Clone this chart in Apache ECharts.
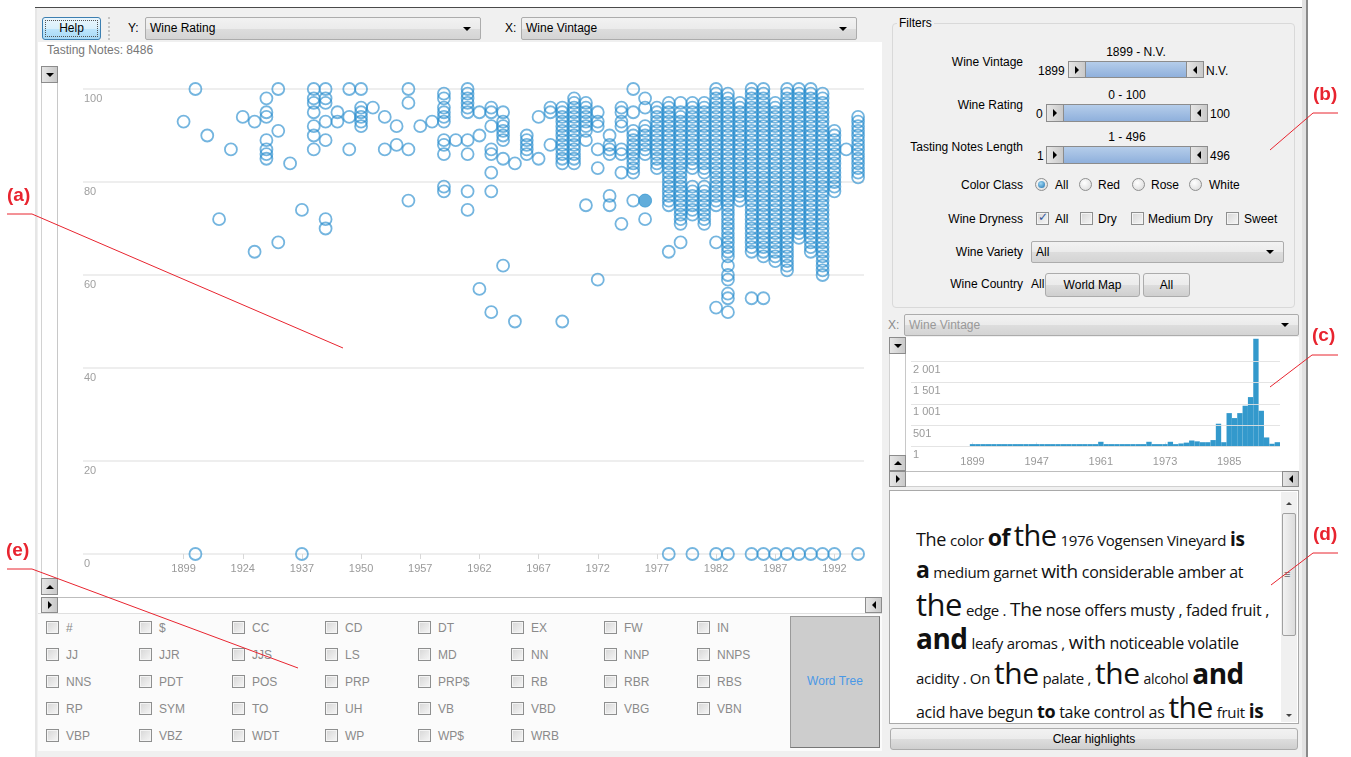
<!DOCTYPE html>
<html><head><meta charset="utf-8">
<script src="https://cdn.jsdelivr.net/npm/echarts@6/dist/echarts.min.js"></script>
<style>
html,body{margin:0;padding:0;width:1351px;height:757px;overflow:hidden;background:#fff;font-family:"Liberation Sans",Arial,sans-serif;font-size:12px;color:#000}
.a{position:absolute;box-sizing:border-box}
.t{line-height:14px;white-space:nowrap}
.btn{border:1px solid #acacac;border-radius:3px;background:linear-gradient(#f2f2f2,#ebebeb 50%,#dddddd 51%,#cfcfcf);text-align:center;white-space:nowrap}
.sel{border:1px solid #acacac;border-radius:2px;background:linear-gradient(#f2f2f2,#ebebeb 50%,#dddddd 51%,#d4d4d4);white-space:nowrap;padding-left:4px}
.sb{border:1px solid #8c8c8c;background:linear-gradient(90deg,#e6e6e6,#c9c9c9)}
.tri{position:absolute;width:0;height:0}
.cb{border:1px solid #8e8f8f;background:linear-gradient(135deg,#d6d6d6,#f6f6f6);box-shadow:inset 0 0 0 1px #f4f4f4}
.rb{border:1px solid #8e8f8f;border-radius:50%;background:radial-gradient(circle at 40% 35%,#ffffff,#d6d6d6)}
#cloud span{white-space:nowrap}
</style></head><body>
<div id="ui"></div>
<div id="chart" class="a" style="left:0;top:0;width:1351px;height:757px;z-index:10"></div>
<script>
// ---------------- DATA ----------------
const vintages = ['1899','1900','1904','1912','1921','1924','1926','1928','1929','1934',
  '1937','1943','1947','1948','1949','1950','1952','1953','1954','1955',
  '1957','1958','1959','1960','1961','1962','1963','1964','1965','1966',
  '1967','1968','1969','1970','1971','1972','1973','1974','1975','1976',
  '1977','1978','1979','1980','1981','1982','1983','1984','1985','1986',
  '1987','1988','1989','1990','1991','1992','1993','N.V.'];

// wine ratings read per vintage (same order as vintages)
const ratings = [
  [93],
  [100,0],
  [90],
  [72],
  [87],
  [94],
  [93,65],
  [98,95,94,89,87,86,85],
  [100,91,67],
  [84],
  [74,0],
  [100,98,97,95,92,90,87],
  [100,98,97,93,89,72,70],
  [95,93],
  [100,94,87],
  [100,96,95,94,93,92],
  [96],
  [94,87],
  [92,88],
  [100,97,87,76],
  [92],
  [93],
  [99,98,96,95,94,93,89,88,86,79,78],
  [89],
  [100,99,98,97,96,95,89,86,78,74],
  [95,90,57],
  [96,95,92,87,86,82,78,52],
  [95,93,92,91,90,89,85,62],
  [84,50],
  [90,89,88,87,86],
  [94,85],
  [96,95,88],
  [96,95,94,93,92,91,90,89,88,87,86,85,84,50],
  [98,97,96,95,94,93,92,91,90,89,88,87,86,85,84],
  [97,96,95,94,93,92,91,89,75],
  [95,93,92,87,83,59],
  [90,88,87,86,77,75],
  [96,95,93,92,87,86,82,71],
  [100,95,91,90,89,88,87,86,85,84,83,82,76],
  [98,96,92,91,90,89,88,87,86,76,72],
  [96,95,94,93,92,91,90,89,88,87,86,85,84,83],
  [97,96,95,94,93,92,91,90,89,88,87,86,85,84,83,82,81,80,79,78,77,76,75,65,0],
  [97,95,94,93,92,91,90,89,88,87,86,85,84,83,82,81,80,79,78,77,76,75,74,73,72,71,67],
  [97,96,95,94,93,92,91,90,89,88,87,86,85,84,83,79,78,77,76,75,74,73,0],
  [97,96,95,94,93,92,91,90,89,88,87,86,85,84,83,82,79,78,77,76,75,74,73,72,71],
  [100,99,98,97,96,95,94,93,92,91,90,89,88,87,86,85,84,83,82,81,80,79,78,77,76,75,67,53,0],
  [99,98,97,96,95,94,93,92,91,90,89,88,87,86,85,84,83,82,81,80,79,78,77,76,75,74,73,72,71,70,69,68,67,66,65,64,62,60,59,56,55,52,0],
  [97,96,95,94,93,92,91,90,89,88,87,86,85,84,83,82,81,80,79,78,77,76],
  [100,99,98,97,96,95,94,93,92,91,90,89,88,87,86,85,84,83,82,81,80,79,78,77,76,75,74,73,72,71,70,69,68,67,66,65,55,0],
  [100,99,98,97,96,95,94,93,92,91,90,89,88,87,86,85,84,83,82,81,80,79,78,77,76,75,74,73,72,71,70,69,68,67,66,65,64,55,0],
  [97,96,95,94,93,92,91,90,89,88,87,86,85,84,83,82,81,80,79,78,77,76,75,74,73,72,71,70,69,68,67,66,65,64,63,0],
  [100,99,98,97,96,95,94,93,92,91,90,89,88,87,86,85,84,83,82,81,80,79,78,77,76,75,74,73,72,71,70,69,68,67,66,65,64,63,62,61,0],
  [100,99,98,97,96,95,94,93,92,91,90,89,88,87,86,85,84,83,82,81,80,79,78,77,76,75,74,73,72,71,70,69,68,0],
  [100,99,98,97,96,95,94,93,92,91,90,89,88,87,86,85,84,83,82,81,80,79,78,77,76,75,74,73,72,71,70,69,68,67,66,65,0],
  [99,98,97,96,95,94,93,92,91,90,89,88,87,86,85,84,83,82,81,80,79,78,77,76,75,74,73,72,71,70,69,68,67,66,65,64,63,62,61,60,0],
  [91,90,89,88,87,86,85,84,83,82,81,80,79,78,0],
  [87],
  [94,93,92,91,90,89,88,87,86,85,84,83,82,81,0]
];
const highlightVintage = '1976';
const highlightRating = 76;

// number of tasting notes per vintage (histogram)
const histCounts = [55,55,55,55,55,55,55,55,55,55,
  55,55,55,55,55,55,55,55,55,55,
  55,55,55,55,110,55,55,55,55,55,
  55,55,55,110,55,55,55,110,55,70,
  90,140,120,100,100,150,535,100,785,668,
  785,958,1162,2535,840,212,63,100];

const scatterXLabels = ['1899','1924','1937','1950','1957','1962','1967','1972','1977','1982','1987','1992'];
const histXLabels = ['1899','1947','1961','1973','1985'];
const histYTicks = [1,501,1001,1501,2001];
const ratingTicks = [0,20,40,60,80,100];

const posTags = [
  ['#','$','CC','CD','DT','EX','FW','IN'],
  ['JJ','JJR','JJS','LS','MD','NN','NNP','NNPS'],
  ['NNS','PDT','POS','PRP','PRP$','RB','RBR','RBS'],
  ['RP','SYM','TO','UH','VB','VBD','VBG','VBN'],
  ['VBP','VBZ','WDT','WP','WP$','WRB']
];

// ---------------- UI (HTML) ----------------
const ui = document.getElementById('ui');
function box(x,y,w,h,cls,style,html){const d=document.createElement('div');d.className='a '+(cls||'');d.style.cssText=`left:${x}px;top:${y}px;width:${w}px;height:${h}px;`+(style||'');if(html!=null)d.innerHTML=html;ui.appendChild(d);return d;}
function txt(x,yc,s,style){const d=document.createElement('div');d.className='a t';d.style.cssText=`left:${x}px;top:${yc-7}px;`+(style||'');d.textContent=s;ui.appendChild(d);return d;}
function txtR(xr,yc,s,style){const d=document.createElement('div');d.className='a t';d.style.cssText=`left:${xr-300}px;width:300px;text-align:right;top:${yc-7}px;`+(style||'');d.textContent=s;ui.appendChild(d);return d;}
function txtC(xc,yc,s,style){const d=document.createElement('div');d.className='a t';d.style.cssText=`left:${xc-150}px;width:300px;text-align:center;top:${yc-7}px;`+(style||'');d.textContent=s;ui.appendChild(d);return d;}
function tri(parent,dir,cx,cy,s,color){const t=document.createElement('div');t.className='tri';s=s||4;color=color||'#000';
  let css='';
  if(dir==='down')css=`border-left:${s}px solid transparent;border-right:${s}px solid transparent;border-top:${s}px solid ${color};left:${cx-s}px;top:${cy-s/2}px;`;
  if(dir==='up')css=`border-left:${s}px solid transparent;border-right:${s}px solid transparent;border-bottom:${s}px solid ${color};left:${cx-s}px;top:${cy-s/2}px;`;
  if(dir==='right')css=`border-top:${s}px solid transparent;border-bottom:${s}px solid transparent;border-left:${s}px solid ${color};left:${cx-s/2}px;top:${cy-s}px;`;
  if(dir==='left')css=`border-top:${s}px solid transparent;border-bottom:${s}px solid transparent;border-right:${s}px solid ${color};left:${cx-s/2}px;top:${cy-s}px;`;
  t.style.cssText=css;parent.appendChild(t);}
function sbtn(x,y,dir,w,h){w=w||17;h=h||17;const b=box(x,y,w,h,'sb');tri(b,dir,(w-2)/2,(h-2)/2,4);return b;}
function sel(x,y,w,h,s,color){const b=box(x,y,w,h,'sel',`line-height:${h-2}px;color:${color||'#000'}`,'');b.textContent=s;tri(b,'down',w-15,(h-2)/2,4);return b;}
function cb(x,yc,checked){const b=box(x,yc-7,13,13,'cb','');if(checked){b.innerHTML='<div class="a" style="left:1px;top:-3px;font:bold 12px \'DejaVu Sans\';color:#31569b">&#10003;</div>';}return b;}
function rb(xc,yc,on){const b=box(xc-7,yc-7,13,13,'rb','');if(on){b.innerHTML='<div class="a" style="left:2px;top:2px;width:7px;height:7px;border-radius:50%;background:radial-gradient(circle at 40% 35%,#9fd8f4,#1a6fae);"></div>';}return b;}

// app frame
box(35,7,1273,750,'','background:#f0f0f0;border-top:1px solid #4a4a4a;');
box(1302,0,4,757,'','background:#e2e2e2;');
box(1306,0,2,757,'','background:#8a8a8a;');
box(35,8,2,749,'','background:#e6e6e6;');

// main top bar
box(42,17,59,23,'','border:1px solid #3c7fb1;border-radius:3px;background:linear-gradient(#eaf6fd,#d9f0fc 50%,#bee6fd 51%,#a7d9f5);');
box(45,20,53,17,'','border:1px dotted #555;text-align:center;line-height:15px;','Help');
box(108,17,2,23,'','border-left:2px dotted #c4c4c4;');
txt(128,28,'Y:');
sel(145,17,336,23,'Wine Rating');
txt(505,28,'X:');
sel(521,17,336,23,'Wine Vintage');

// main plot panel
box(38,42,844,571,'','background:#fff;');
txt(47,50,'Tasting Notes: 8486','color:#777;');
box(41,66,17,529,'','background:#fff;border-left:1px solid #d2d2d2;border-right:1px solid #c8c8c8;');
sbtn(41,66,'down');
sbtn(41,578,'up');
box(41,597,841,16,'','background:#fff;border-top:1px solid #bdbdbd;');
sbtn(41,597,'right',17,16);
sbtn(865,597,'left',17,16);

// part-of-speech checkboxes
box(38,613,844,138,'','background:#fbfbfb;border-top:1px solid #e0e0e0;');
const colX=[46,139,232,325,418,511,604,697];
const rowY=[628,655,682,709,736];
posTags.forEach((row,ri)=>row.forEach((tag,ci)=>{cb(colX[ci],rowY[ri],false);txt(colX[ci]+20,rowY[ri],tag,'color:#8a8a8a;');}));
box(790,616,90,132,'','background:#cdcdcd;border:1px solid #9a9a9a;border-right-color:#777;border-bottom-color:#777;');
txtC(835,681,'Word Tree','color:#4a98e6;');

// Filters group
box(892,23,403,285,'','border:1px solid #d9d9d9;border-radius:4px;');
txt(897,23,'Filters','background:#f0f0f0;padding:0 2px;');
const filterLabels=[['Wine Vintage',62],['Wine Rating',105],['Tasting Notes Length',147],['Color Class',185],['Wine Dryness',219],['Wine Variety',252],['Wine Country',284]];
filterLabels.forEach(([s,y])=>txtR(1023,y,s));
function slider(x1,x2,y1,h,topTxt,lo,loX,hi){
  box(x1,y1,x2-x1,h,'','border:1px solid #8c8c8c;background:linear-gradient(#b5cdea,#8fb0dc);');
  sbtn(x1,y1,'right',18,h);sbtn(x2-18,y1,'left',18,h);
  txtC((x1+x2)/2,y1-9,topTxt);
  txt(loX,y1+h/2+1,lo);txt(x2+2,y1+h/2+1,hi);
}
slider(1068,1204,61,17,'1899 - N.V.','1899',1038,'N.V.');
slider(1046,1208,104,18,'0 - 100','0',1036,'100');
slider(1046,1208,146,18,'1 - 496','1',1037,'496');
rb(1042,185,true);txt(1055,185,'All');
rb(1086,185,false);txt(1098,185,'Red');
rb(1139,185,false);txt(1151,185,'Rose');
rb(1196,185,false);txt(1209,185,'White');
cb(1036,219,true);txt(1055,219,'All');
cb(1080,219,false);txt(1098,219,'Dry');
cb(1131,219,false);txt(1148,219,'Medium Dry');
cb(1226,219,false);txt(1244,219,'Sweet');
sel(1031,241,253,22,'All');
txt(1031,284,'All');
box(1045,273,95,24,'btn','line-height:22px;','World Map');
box(1143,273,47,24,'btn','line-height:22px;','All');

// histogram panel
txt(888,325,'X:','color:#8a8a8a;');
sel(904,314,395,22,'Wine Vintage','#999');
box(889,337,410,134,'','background:#fff;');
box(889,337,17,134,'','background:#fff;border-left:1px solid #d2d2d2;border-right:1px solid #c8c8c8;');
sbtn(889,337,'down');
sbtn(889,455,'up',17,16);
box(889,471,410,16,'','background:#fff;border-top:1px solid #bdbdbd;border-bottom:1px solid #d0d0d0;');
sbtn(889,471,'right',17,16);
sbtn(1282,471,'left',17,16);

// text panel
box(889,490,410,234,'','background:#fff;border:1px solid #a9a9a9;');
box(1281,492,16,230,'','background:#f0f0f0;');
tri(ui,'up',1289,503,3,'#444');
tri(ui,'down',1289,715,3,'#444');
box(1282,513,14,123,'','border:1px solid #a0a0a0;border-radius:2px;background:linear-gradient(90deg,#f2f2f2,#dcdcdc);');
txt(1284,574,'≡','color:#666;font-size:11px;');
box(890,728,408,22,'btn','line-height:20px;','Clear highlights');

// word cloud text
const cloudLines=[
  [['The',18],['color',15],['of',23,700],['the',29,500],['1976 Vogensen Vineyard',15],['is',19,700]],
  [['a',23,700],['medium garnet',15],['with',19],['considerable amber at',16]],
  [['the',31,500],['edge .',15],['The',19],['nose offers musty , faded fruit ,',16]],
  [['and',28,700],['leafy aromas ,',15],['with',19],['noticeable volatile',16]],
  [['acidity . On',15],['the',30,500],['palate ,',15],['the',30,500],['alcohol',14],['and',28,700]],
  [['acid have begun',16],['to',18,700],['take control as',16],['the',30,500],['fruit',15],['is',19,700]]
];
const cloud=box(916,518,360,205,'','font-family:"Open Sans",sans-serif;font-size:15px;line-height:34.4px;color:#111;overflow:hidden;');
cloud.id='cloud';
cloud.innerHTML=cloudLines.map(line=>'<div style="white-space:nowrap;height:34.4px">'+line.map(([w,s,fw])=>`<span style="font-size:${s}px;font-weight:${fw||400};letter-spacing:${s>20?-0.5:-0.3}px">${w}</span>`).join(' ')+'</div>').join('');

// ---------------- CHART (ECharts) ----------------
const PAD_S = 8, PAD_H = 11;
const scatterCats = Array.from({length:PAD_S},(_,i)=>' '.repeat(i+1)).concat(vintages);
const histCats = Array.from({length:PAD_H},(_,i)=>' '.repeat(i+1)).concat(vintages);

const scatterData=[];
const highlightData=[];
vintages.forEach((v,i)=>ratings[i].forEach(r=>{
  if(v===highlightVintage && r===highlightRating) highlightData.push([PAD_S+i,r]);
  else scatterData.push([PAD_S+i,r]);
}));
const histData = histCounts.map((c,i)=>[PAD_H+i,c]);
const fmtThousands = v => String(v).replace(/\B(?=(\d{3})+(?!\d))/g,' ');

const RED='#e8242f';
const annotations=[
  {t:'(a)',x:20,y:198,line:[[7,214],[32,214],[343,348]]},
  {t:'(b)',x:1326,y:97,line:[[1338,113],[1313,113],[1270,150]]},
  {t:'(c)',x:1325,y:338,line:[[1338,355],[1312,355],[1270,387]]},
  {t:'(d)',x:1326,y:537,line:[[1338,553],[1313,553],[1271,585]]},
  {t:'(e)',x:19,y:553,line:[[7,569],[32,569],[298,668]]}
];
const graphic=[];
annotations.forEach(a=>{
  graphic.push({type:'text',left:a.x-13,top:a.y-12,z:100,style:{text:a.t,fill:RED,font:'bold 19px "Liberation Sans", Arial, sans-serif'}});
  graphic.push({type:'polyline',z:100,shape:{points:a.line},style:{stroke:RED,lineWidth:1,fill:null}});
});

const chart = echarts.init(document.getElementById('chart'),null,{renderer:'canvas'});
chart.setOption({
  animation:false,
  grid:[
    {left:83,top:89,width:781,height:465},
    {left:911,top:336,width:369,height:113}
  ],
  xAxis:[
    {type:'category',gridIndex:0,data:scatterCats,boundaryGap:true,
     axisLine:{show:false},
     axisTick:{show:true,alignWithLabel:true,length:5,lineStyle:{color:'#d8d8d8'},interval:(i,v)=>scatterXLabels.includes(v)},
     axisLabel:{interval:(i,v)=>scatterXLabels.includes(v),color:'#9a9a9a',fontSize:11,margin:9,fontFamily:'Liberation Sans'},
     splitLine:{show:false}},
    {type:'category',gridIndex:1,data:histCats,boundaryGap:true,
     axisLine:{show:false},
     axisTick:{show:true,inside:true,alignWithLabel:true,length:4,lineStyle:{color:'#d8e6f0'},interval:(i,v)=>histXLabels.includes(v)},
     axisLabel:{interval:(i,v)=>histXLabels.includes(v),color:'#9a9a9a',fontSize:11,margin:7,fontFamily:'Liberation Sans'},
     splitLine:{show:false}}
  ],
  yAxis:[
    {type:'value',gridIndex:0,min:ratingTicks[0],max:ratingTicks[ratingTicks.length-1],interval:20,
     axisLine:{show:false},axisTick:{show:false},
     axisLabel:{inside:true,margin:1,verticalAlign:'top',padding:[4,0,0,0],color:'#a0a0a0',fontSize:11,fontFamily:'Liberation Sans'},
     splitLine:{show:true,lineStyle:{color:'#e8e8e8',width:1.5}}},
    {type:'value',gridIndex:1,min:-60,max:2600,
     axisLine:{show:false},axisTick:{show:false},axisLabel:{show:false},splitLine:{show:false}}
  ],
  series:[
    {type:'scatter',xAxisIndex:0,yAxisIndex:0,data:scatterData,symbol:'circle',symbolSize:12,clip:false,
     itemStyle:{color:'rgba(255,255,255,0)',borderColor:'rgba(38,140,205,0.8)',borderWidth:1.8},
     emphasis:{disabled:true}},
    {type:'scatter',xAxisIndex:0,yAxisIndex:0,data:highlightData,symbol:'circle',symbolSize:13,clip:false,
     itemStyle:{color:'#3a98d2',borderColor:'#3a98d2',borderWidth:1},z:3},
    {type:'bar',xAxisIndex:1,yAxisIndex:1,data:histData,barCategoryGap:'0%',barGap:'0%',
     itemStyle:{color:'#3399cc'},
     markLine:{silent:true,symbol:['none','none'],animation:false,
       lineStyle:{color:'rgba(225,225,225,0.9)',width:1,type:'solid'},
       label:{position:'insideStartBottom',color:'#9a9a9a',fontSize:11,fontFamily:'Liberation Sans',distance:[2,3]},
       data:histYTicks.map(v=>({yAxis:v,label:{formatter:fmtThousands(v)}}))}}
  ],
  graphic:graphic
});
</script>
</body></html>
